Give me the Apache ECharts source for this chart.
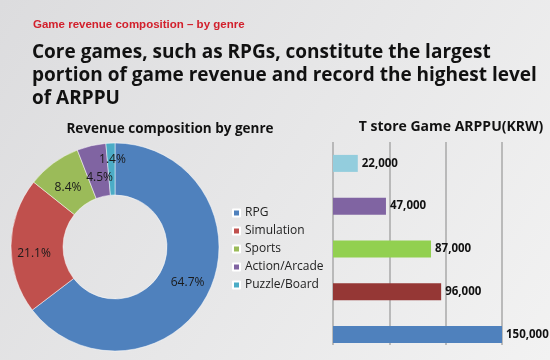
<!DOCTYPE html>
<html><head><meta charset="utf-8">
<script src="https://cdn.jsdelivr.net/npm/echarts@6/dist/echarts.min.js"></script>
<style>html,body{margin:0;padding:0;}#c{width:550px;height:360px;}</style>
</head><body><div id="c"></div>
<script>
const genres = ['RPG', 'Simulation', 'Sports', 'Action/Arcade', 'Puzzle/Board'];
const sharePct = [64.7, 21.1, 8.4, 4.5, 1.4];
const arppuKRW = [150000, 96000, 87000, 47000, 22000];
const xTicks = [0, 50000, 100000, 150000];

const pieColors = ['#4f81bd', '#c0504d', '#9bbb59', '#8064a2', '#4bacc6'];
const barColors = ['#4f81bd', '#953735', '#92d050', '#8064a2', '#93cddd'];
const labelNudge = [[0, 0], [0, 7], [1, 6], [3, 9], [1, -7]];

const chart = echarts.init(document.getElementById('c'));
const font = 'Open Sans';
chart.setOption({
  animation: false,
  backgroundColor: {
    type: 'linear', x: 0, y: 0, x2: 1, y2: 1,
    colorStops: [{offset: 0, color: '#dcdcde'}, {offset: 1, color: '#f2f2f2'}]
  },
  textStyle: {fontFamily: font},
  title: [
    {text: 'Game revenue composition – by genre', left: 28, top: 14,
     textStyle: {fontFamily: 'Liberation Sans', fontSize: 11.5, fontWeight: 'bold', color: '#d2202c'}},
    {text: 'Core games, such as RPGs, constitute the largest\nportion of game revenue and record the highest level\nof ARPPU',
     left: 27, top: 36,
     textStyle: {fontFamily: font, fontSize: 19, fontWeight: 'bold', color: '#111', lineHeight: 23}},
    {text: 'Revenue composition by genre', left: 165, top: 117, textAlign: 'center',
     textStyle: {fontFamily: font, fontSize: 13.5, fontWeight: 'bold', color: '#111'}},
    {text: 'T store Game ARPPU(KRW)', left: 446, top: 115, textAlign: 'center',
     textStyle: {fontFamily: font, fontSize: 14, fontWeight: 'bold', color: '#111'}}
  ],
  legend: {
    orient: 'vertical', left: 227, top: 201,
    icon: 'rect', itemWidth: 7, itemHeight: 7, itemGap: 4,
    data: genres,
    textStyle: {fontFamily: font, fontSize: 12, color: '#222', lineHeight: 14}
  },
  grid: [
    {left: 333, right: 48, top: 142, height: 214},
    {left: 333, right: 48, top: 142, bottom: 15}
  ],
  xAxis: [
    {gridIndex: 0, type: 'value', min: xTicks[0], max: xTicks[xTicks.length - 1], interval: 50000,
     axisLine: {show: false}, axisTick: {show: false}, axisLabel: {show: false}, splitLine: {show: false}},
    {gridIndex: 1, type: 'value', min: xTicks[0], max: xTicks[xTicks.length - 1], interval: 50000,
     axisLine: {show: false}, axisTick: {show: false}, axisLabel: {show: false},
     splitLine: {show: true, lineStyle: {color: '#a8a8a8', width: 1.5}}}
  ],
  yAxis: [
    {gridIndex: 0, type: 'category', data: genres,
     axisLine: {show: false}, axisTick: {show: false}, axisLabel: {show: false}},
    {gridIndex: 1, type: 'category', data: genres, show: false}
  ],
  series: [
    {
      type: 'pie', name: 'share', center: [115, 247], radius: [52, 104],
      startAngle: 90, clockwise: true, avoidLabelOverlap: false,
      itemStyle: {borderColor: '#ffffff', borderWidth: 0.5},
      label: {position: 'inside', formatter: '{c}%', fontFamily: font, fontSize: 12, color: '#1a1a1a'},
      labelLine: {show: false},
      labelLayout: function (p) { const n = labelNudge[p.dataIndex]; return {dx: n[0], dy: n[1]}; },
      data: genres.map((g, i) => ({name: g, value: sharePct[i], itemStyle: {color: pieColors[i]}}))
    },
    {
      type: 'bar', name: 'ARPPU', xAxisIndex: 0, yAxisIndex: 0, barWidth: 17,
      data: arppuKRW.map((v, i) => ({value: v, itemStyle: {color: barColors[i]}})),
      label: {show: true, position: 'right', distance: 4, fontFamily: font, fontSize: 11.5, fontWeight: 'bold', color: '#111',
        formatter: p => p.value.toLocaleString('en-US')}
    }
  ]
});
</script></body></html>
